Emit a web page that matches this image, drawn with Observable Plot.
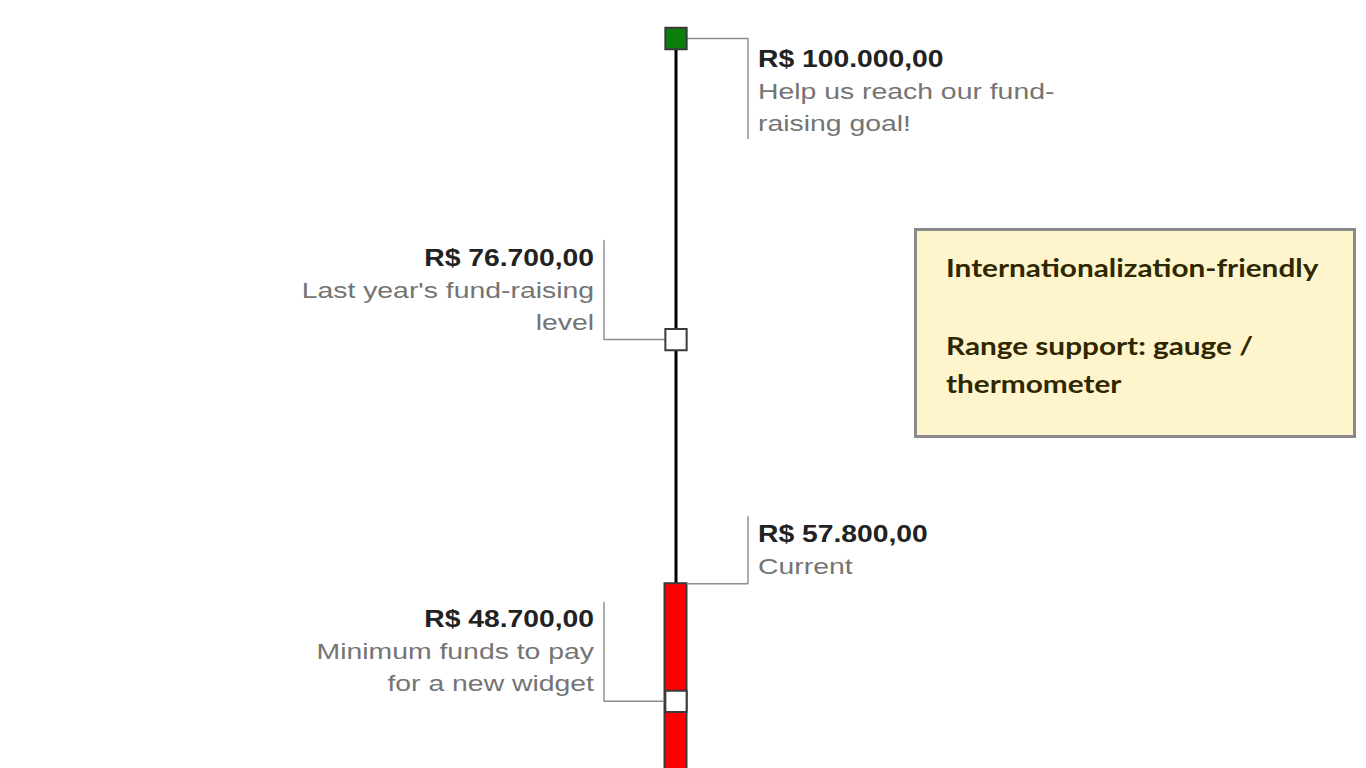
<!DOCTYPE html>
<html>
<head>
<meta charset="utf-8">
<script src="https://cdn.jsdelivr.net/npm/d3@7"></script>
<script src="https://cdn.jsdelivr.net/npm/@observablehq/plot@0.6"></script>
<style>
  html, body { margin: 0; padding: 0; background: #ffffff; overflow: hidden; }
  #chart { position: absolute; left: 0; top: 0; }
  #note { position: absolute; left: 914px; top: 228px; }
</style>
</head>
<body>
<div id="chart"></div>
<div id="note"></div>
<script>
// ---------- data ----------
const gaugeMin = 0;
const gaugeMax = 100000;
const currentValue = 57800;
const values = [100000, 76700, 57800, 48700];
const valueLabels = ["R$ 100.000,00", "R$ 76.700,00", "R$ 57.800,00", "R$ 48.700,00"];
const descriptions = [
  "Help us reach our fund-\nraising goal!",
  "Last year's fund-raising\nlevel",
  "Current",
  "Minimum funds to pay\nfor a new widget"
];
const sides = ["right", "left", "right", "left"];
const markerKinds = ["goal", "level", "current", "level"];
const noteLines = ["Internationalization-friendly", "", "Range support: gauge /", "thermometer"];

// ---------- layout (pixels) ----------
const W = 1366, H = 768;
const centerX = 675.5;
const yRange = [1330, 38];
const half = 11;        // half bar width
const elbow = 72;       // callout elbow distance from axis
const textGap = 10;     // gap between elbow and label
const lineStep = 32;    // line spacing of the labels
const boldSize = 23, boldStretch = 1.23;
const descSize = 22, descStretch = 1.29;

const yS = Plot.scale({y: {domain: [gaugeMin, gaugeMax], range: yRange}});

const rows = values.map((v, i) => {
  const s = sides[i] === "right" ? 1 : -1;
  const py = yS.apply(v);
  const n = descriptions[i].split("\n").length;
  const above = py - (lineStep * n + 10 + 25) > 0;
  let bold, last, end;
  if (above) {
    last = py - 10;
    bold = last - lineStep * n;
    end = bold - 25;
  } else {
    bold = py + 28;
    last = bold + lineStep * n;
    end = last + 8;
  }
  return {
    value: v, label: valueLabels[i], desc: descriptions[i], s, kind: markerKinds[i],
    boldY: yS.invert(bold), lastY: yS.invert(last), endY: yS.invert(end)
  };
});

const callouts = rows.flatMap(r => [
  {id: r.label, x: r.s * half, y: r.value},
  {id: r.label, x: r.s * elbow, y: r.value},
  {id: r.label, x: r.s * elbow, y: r.endY}
]);
const markers = rows.filter(r => r.kind !== "current");

const labelMarks = [1, -1].flatMap(s => {
  const data = rows.filter(r => r.s === s);
  const anchor = s > 0 ? "start" : "end";
  return [
    Plot.text(data, {x: s * (elbow + textGap), y: "boldY", text: "label",
      textAnchor: anchor, lineAnchor: "bottom",
      fontFamily: "Liberation Sans, Arial, sans-serif", fontWeight: "bold",
      fontSize: boldSize, fill: "#222222"}),
    Plot.text(data, {x: s * (elbow + textGap), y: "lastY", text: "desc",
      textAnchor: anchor, lineAnchor: "bottom",
      lineHeight: lineStep / descSize,
      fontFamily: "Liberation Sans, Arial, sans-serif",
      fontSize: descSize, fill: "#747474"})
  ];
});

const chart = Plot.plot({
  width: W, height: H,
  margin: 0,
  style: {background: "transparent"},
  x: {domain: [-centerX, W - centerX], range: [0, W], axis: null},
  y: {domain: [gaugeMin, gaugeMax], range: yRange, axis: null},
  marks: [
    Plot.ruleX([0], {y1: gaugeMin, y2: gaugeMax, stroke: "#000", strokeWidth: 3}),
    Plot.rect([currentValue], {x1: -half, x2: half, y1: gaugeMin, y2: d => d,
      fill: "#ff0000", stroke: "#3a3a3a", strokeWidth: 2}),
    Plot.line(callouts, {x: "x", y: "y", z: "id", stroke: "#8c8c8c", strokeWidth: 1.4, curve: "linear"}),
    Plot.dot(markers, {x: 0, y: "value", symbol: "square", r: 12,
      fill: d => d.kind === "goal" ? "#0a7f0a" : "#ffffff", stroke: "#3a3a3a", strokeWidth: 2}),
    ...labelMarks
  ]
});
document.getElementById("chart").appendChild(chart);

// widen label glyphs horizontally to match the reference's text proportions
d3.select(chart).selectAll('g[aria-label="text"]').each(function() {
  const g = d3.select(this);
  const sx = g.attr("font-weight") === "bold" ? boldStretch : descStretch;
  g.selectAll("text").attr("transform", function() {
    return (this.getAttribute("transform") || "") + ` scale(${sx},1)`;
  });
});

// ---------- annotation note ----------
const noteW = 442, noteH = 210;
const note = d3.select("#note").append("svg").attr("width", noteW).attr("height", noteH);
note.append("rect").attr("x", 1.5).attr("y", 1.5).attr("width", noteW - 3).attr("height", noteH - 3)
  .attr("fill", "#fff5cc").attr("stroke", "#8a8a8a").attr("stroke-width", 3);
const noteBaselines = [49, 88, 127, 165];
note.selectAll("text").data(noteLines).join("text")
  .attr("transform", (d, i) => `translate(32,${noteBaselines[i]}) scale(1.19,1)`)
  .attr("font-family", "Lato, 'Open Sans', sans-serif").attr("font-weight", "bold")
  .attr("font-size", 25).attr("fill", "#2f2700")
  .text(d => d);
</script>
</body>
</html>
